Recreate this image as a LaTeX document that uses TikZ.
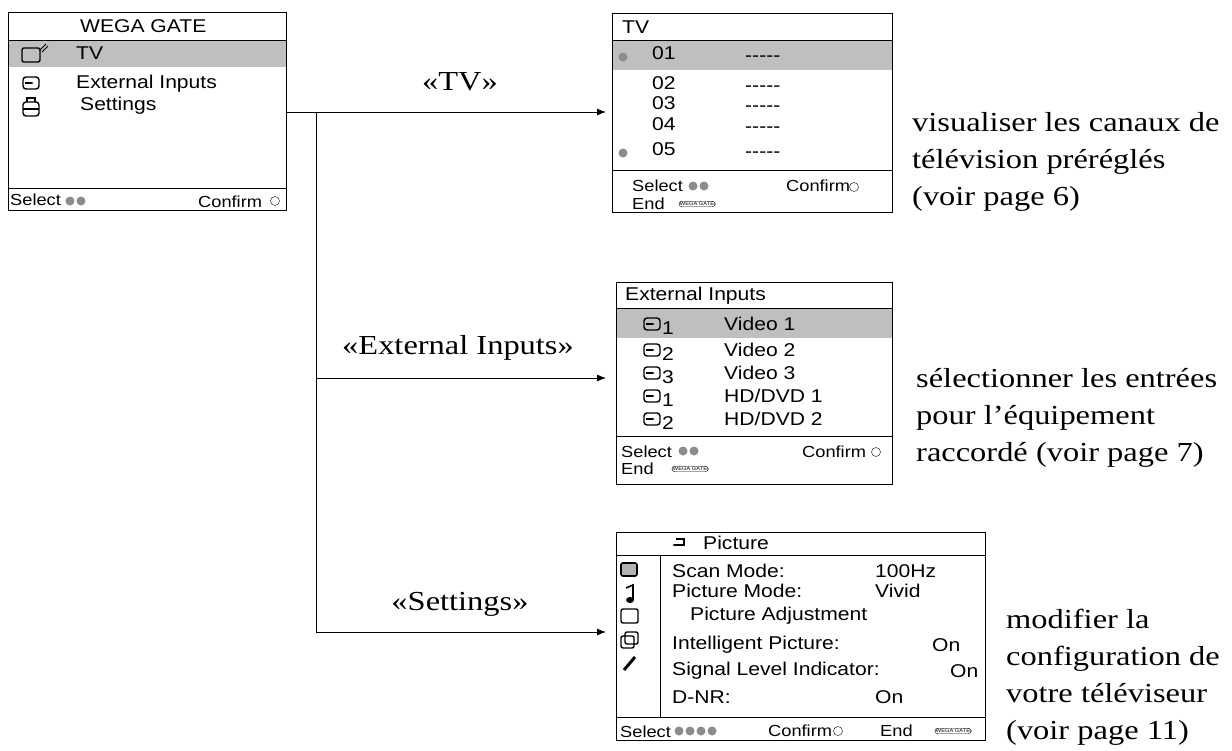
\documentclass[tikz,border=0pt]{standalone}
\usepackage{fontspec}
\setmainfont{Liberation Serif}
\newfontfamily\menufont{Liberation Sans}[FakeStretch=1.14]
\newfontfamily\descfont{Liberation Serif}[FakeStretch=1.18]
\usetikzlibrary{arrows.meta}
\tikzset{
  menu/.style={draw,line width=1pt},
  mtxt/.style={anchor=west,inner sep=0pt,font=\menufont\fontsize{18.5}{18.5}\selectfont},
  ftxt/.style={anchor=west,inner sep=0pt,font=\menufont\fontsize{16}{16}\selectfont},
  desc/.style={anchor=west,inner sep=0pt,align=left,font=\descfont\fontsize{27.5}{37}\selectfont},
  lab/.style={inner sep=0pt,font=\descfont\fontsize{27.5}{27.5}\selectfont},
  hl/.style={fill=black!25},
  btn/.style={circle,fill=black!45,inner sep=0pt,minimum size=9pt},
  conn/.style={line width=0.8pt},
  arr/.style={line width=0.8pt,-{Latex[length=9pt,width=7pt]}},
  badge/.style={draw,rounded corners=3pt,inner sep=1pt,font=\menufont\fontsize{5}{5}\selectfont}
}
\newcommand{\inicon}[1]{%
  \draw[line width=1.4pt,rounded corners=3pt] (#1) ++(-8,-6) rectangle ++(16,12);
  \draw[line width=1.2pt,-{Latex[length=3pt]}] (#1) ++(-6,0) -- ++(9,0);}
\begin{document}
\begin{tikzpicture}[x=1pt,y=-1pt]
\useasboundingbox (0,0) rectangle (1232,750);

% main menu
\fill[hl] (9,40) rectangle (286,67);
\draw[menu] (8,12) rectangle (286,210);
\draw[menu] (8,40) -- (286,40);
\draw[menu] (8,188) -- (286,188);
\node[mtxt] (wega) at (80,26) {WEGA GATE};
\node[mtxt] (mtv) at (76,53) {TV};
\node[mtxt] (mext) at (76,84) {External Inputs};
\node[mtxt] (mset) at (80,106) {Settings};
\draw[line width=1.4pt,rounded corners=2pt] (22,48) rectangle (40,62);
\draw[line width=0.8pt] (40,50) -- (46,44) (42,52) -- (48,46);
\inicon{31,83}
\draw[line width=1.4pt,rounded corners=3pt] (23,102) rectangle (39,116);
\draw[line width=1.4pt] (27,102) -- (27,98) -- (35,98) -- (35,102) (23,109) -- (39,109);
\node[ftxt] (msel) at (10,200) {Select};
\node[btn] at (70,201) {}; \node[btn] at (81,201) {};
\node[ftxt] (mconf) at (198,202) {Confirm};
\node[btn,draw,fill=white] at (275,201) {};

% TV menu
\fill[hl] (613,40) rectangle (892,70);
\draw[menu] (612,13) rectangle (892,212);
\draw[menu] (612,40) -- (892,40);
\draw[menu] (612,170) -- (892,170);
\node[mtxt] (tvhead) at (622,27) {TV};
\foreach \n/\y in {01/53,02/83,03/103,04/124,05/149}{
  \node[mtxt] (ch\n) at (652,\y) {\n};
  \node[mtxt] at (745,\y+6) {-----};
}
\node[btn] at (623,57) {}; \node[btn] at (623,153) {};
\node[ftxt] (tvsel) at (632,186) {Select};
\node[btn] at (693,186) {}; \node[btn] at (704,186) {};
\node[ftxt] (tvconf) at (786,186) {Confirm};
\node[btn,draw,fill=white] at (854,187) {};
\node[ftxt] (tvend) at (632,204) {End};
\node[badge] at (697,204) {WEGA GATE};

% External Inputs menu
\fill[hl] (617,309) rectangle (892,338);
\draw[menu] (616,282) rectangle (892,484);
\draw[menu] (616,308) -- (892,308);
\draw[menu] (616,436) -- (892,436);
\node[mtxt] (exhead) at (625,296) {External Inputs};
\foreach \i/\y/\k/\name in {1/324/1/{Video 1},2/350/2/{Video 2},3/373/3/{Video 3},4/396/1/{HD/DVD 1},5/419/2/{HD/DVD 2}}{
  \inicon{652,\y}
  \node[mtxt] at (662,\y+4) {\k};
  \node[mtxt] (ex\i) at (724,\y) {\name};
}
\node[ftxt] (exsel) at (621,452) {Select};
\node[btn] at (683,451) {}; \node[btn] at (694,451) {};
\node[ftxt] (exconf) at (802,452) {Confirm};
\node[btn,draw,fill=white] at (876,452) {};
\node[ftxt] (exend) at (621,469) {End};
\node[badge] at (690,469) {WEGA GATE};

% Settings menu
\draw[menu] (616,532) rectangle (985,740);
\draw[menu] (616,555) -- (985,555);
\draw[menu] (660,555) -- (660,717);
\draw[menu] (616,717) -- (985,717);
\node[mtxt] (sethead) at (703,543) {Picture};
\draw[line width=1.4pt,-{Latex[length=3pt]}] (676,539) -- (684,539) -- (684,545) -- (672,545);
\node[mtxt] (s1) at (672,571) {Scan Mode:};
\node[mtxt] at (875,571) {100Hz};
\node[mtxt] (s2) at (672,591) {Picture Mode:};
\node[mtxt] at (875,591) {Vivid};
\node[mtxt] (s3) at (690,616) {Picture Adjustment};
\node[mtxt] (s4) at (672,645) {Intelligent Picture:};
\node[mtxt] at (932,645) {On};
\node[mtxt] (s5) at (672,671) {Signal Level Indicator:};
\node[mtxt] at (950,671) {On};
\node[mtxt] (s6) at (672,697) {D-NR:};
\node[mtxt] at (875,697) {On};
\draw[line width=1.6pt,rounded corners=2pt,fill=black!30] (621,563) rectangle (637,576);
\fill (630,600) ellipse (4 and 3); \draw[line width=1.6pt] (633,599) -- (633,585) -- (626,588);
\draw[line width=1.4pt,rounded corners=2pt] (621,609) rectangle (638,623);
\draw[line width=1.4pt,rounded corners=2pt] (621,636) rectangle (634,648) (625,632) rectangle (638,644);
\draw[line width=3pt] (624,670) -- (635,657);
\node[ftxt] (ssel) at (620,732) {Select};
\foreach \x in {679,690,701,712}{\node[btn] at (\x,731) {};}
\node[ftxt] (sconf) at (768,731) {Confirm};
\node[btn,draw,fill=white] at (838,731) {};
\node[ftxt] (send) at (880,731) {End};
\node[badge] at (953,731) {WEGA GATE};

% connectors
\coordinate (from) at (286,112);
\coordinate (split) at (316,112);
\coordinate (jext) at (316,378);
\coordinate (jset) at (316,632);
\coordinate (totv) at (606,112);
\coordinate (toext) at (606,378);
\coordinate (toset) at (606,632);
\draw[conn] (from) -- (split) -- (jset);
\draw[arr] (split) -- (totv);
\draw[arr] (jext) -- (toext);
\draw[arr] (jset) -- (toset);
\node[lab] (ltv) at (460,82) {«TV»};
\node[lab] (lext) at (458,348) {«External Inputs»};
\node[lab] (lset) at (460,604) {«Settings»};

% descriptions
\node[desc] (dtv) at (912,162) {visualiser les canaux de\\télévision préréglés\\(voir page 6)};
\node[desc] (dext) at (916,418) {sélectionner les entrées\\pour l’équipement\\raccordé (voir page 7)};
\node[desc] (dset) at (1006,677) {modifier la\\configuration de\\votre téléviseur\\(voir page 11)};
\end{tikzpicture}
\end{document}
